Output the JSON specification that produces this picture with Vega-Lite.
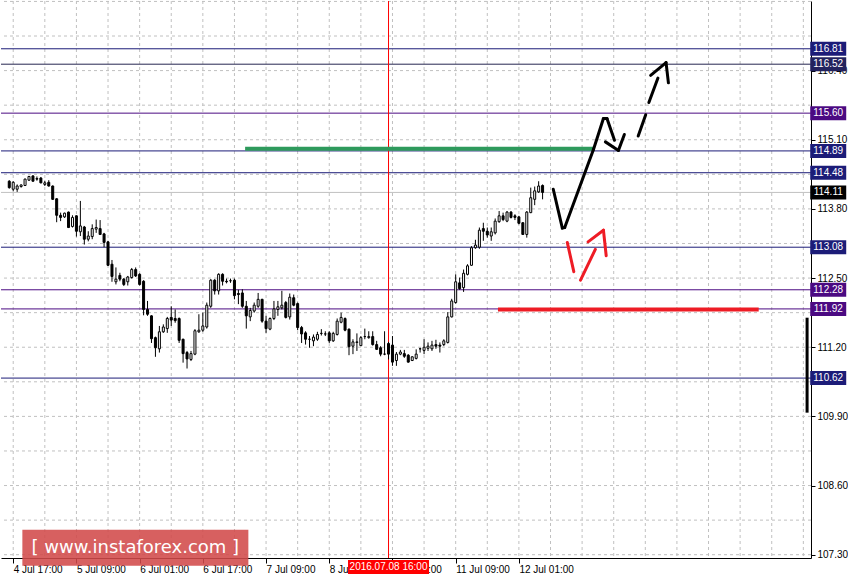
{
  "$schema": "https://vega.github.io/schema/vega-lite/v6.json",
  "width": 810,
  "height": 557,
  "padding": 0,
  "background": "#ffffff",
  "config": {"view": {"stroke": null}, "font": "Liberation Sans"},
  "datasets": {
    "grid": [{"g":0},{"g":8},{"g":16},{"g":24},{"g":32},{"g":40},{"g":48},{"g":56},{"g":64},{"g":72},{"g":80},{"g":88},{"g":96},{"g":104},{"g":112},{"g":120},{"g":128},{"g":136},{"g":144},{"g":152},{"g":160},{"g":168},{"g":176},{"g":184},{"g":192},{"g":200}],
    "hgrid": [{"p":107.30},{"p":107.95},{"p":108.60},{"p":109.25},{"p":109.90},{"p":110.55},{"p":111.20},{"p":111.85},{"p":112.50},{"p":113.15},{"p":113.80},{"p":114.45},{"p":115.10},{"p":115.75},{"p":116.40},{"p":117.05},{"p":117.70}],
    "levels": [
      {"value":116.81,"kind":"navy"},{"value":116.52,"kind":"dark"},{"value":115.60,"kind":"indigo"},{"value":114.89,"kind":"navy"},{"value":114.48,"kind":"navy"},{"value":114.11,"kind":"current"},{"value":113.08,"kind":"navy"},{"value":112.28,"kind":"indigo"},{"value":111.92,"kind":"indigo"},{"value":110.62,"kind":"navy"}
    ],
    "hlines": [
      {"x1":58.7,"x2":147.2,"y":114.93,"c":"green"},
      {"x1":122.7,"x2":188.7,"y":111.91,"c":"red"}
    ],
    "arrows": [
      {"x1":136.7,"y1":114.17,"x2":139.0,"y2":113.44,"c":"black"},
      {"x1":139.0,"y1":113.44,"x2":139.6,"y2":113.45,"c":"black"},
      {"x1":139.6,"y1":113.45,"x2":146.9,"y2":114.92,"c":"black"},
      {"x1":146.9,"y1":114.92,"x2":149.4,"y2":115.50,"c":"black"},
      {"x1":149.4,"y1":115.50,"x2":150.3,"y2":115.50,"c":"black"},
      {"x1":150.3,"y1":115.50,"x2":152.2,"y2":115.09,"c":"black"},
      {"x1":149.9,"y1":115.06,"x2":153.2,"y2":114.90,"c":"black"},
      {"x1":153.2,"y1":114.90,"x2":154.7,"y2":115.20,"c":"black"},
      {"x1":158.2,"y1":115.17,"x2":160.1,"y2":115.57,"c":"black"},
      {"x1":160.9,"y1":115.80,"x2":163.2,"y2":116.26,"c":"black"},
      {"x1":161.35,"y1":116.31,"x2":165.25,"y2":116.55,"c":"black"},
      {"x1":165.25,"y1":116.55,"x2":165.85,"y2":116.17,"c":"black"},
      {"x1":140.25,"y1":113.17,"x2":141.9,"y2":112.62,"c":"red"},
      {"x1":143.6,"y1":112.46,"x2":147.35,"y2":113.04,"c":"red"},
      {"x1":145.5,"y1":113.18,"x2":149.4,"y2":113.40,"c":"red"},
      {"x1":149.4,"y1":113.40,"x2":150.1,"y2":112.92,"c":"red"}
    ],
    "candles": [
      {"i":-1,"o":114.32,"h":114.34,"l":114.18,"c":114.20},
      {"i":0,"o":114.17,"h":114.32,"l":114.13,"c":114.30},
      {"i":1,"o":114.17,"h":114.26,"l":114.12,"c":114.23},
      {"i":2,"o":114.22,"h":114.26,"l":114.20,"c":114.25},
      {"i":3,"o":114.24,"h":114.37,"l":114.23,"c":114.36},
      {"i":4,"o":114.34,"h":114.42,"l":114.33,"c":114.41},
      {"i":5,"o":114.42,"h":114.43,"l":114.32,"c":114.32},
      {"i":6,"o":114.37,"h":114.41,"l":114.33,"c":114.36},
      {"i":7,"o":114.38,"h":114.40,"l":114.28,"c":114.29},
      {"i":8,"o":114.26,"h":114.33,"l":114.23,"c":114.29},
      {"i":9,"o":114.30,"h":114.34,"l":114.22,"c":114.23},
      {"i":10,"o":114.23,"h":114.24,"l":113.97,"c":113.98},
      {"i":11,"o":113.99,"h":114.00,"l":113.55,"c":113.68},
      {"i":12,"o":113.68,"h":113.73,"l":113.57,"c":113.64},
      {"i":13,"o":113.65,"h":113.73,"l":113.63,"c":113.72},
      {"i":14,"o":113.74,"h":113.75,"l":113.44,"c":113.45},
      {"i":15,"o":113.47,"h":113.68,"l":113.45,"c":113.64},
      {"i":16,"o":113.67,"h":113.68,"l":113.28,"c":113.38},
      {"i":17,"o":113.37,"h":113.95,"l":113.29,"c":113.48},
      {"i":18,"o":113.46,"h":113.48,"l":113.13,"c":113.23},
      {"i":19,"o":113.23,"h":113.38,"l":113.19,"c":113.29},
      {"i":20,"o":113.28,"h":113.51,"l":113.23,"c":113.43},
      {"i":21,"o":113.42,"h":113.60,"l":113.35,"c":113.45},
      {"i":22,"o":113.43,"h":113.59,"l":113.32,"c":113.32},
      {"i":23,"o":113.33,"h":113.35,"l":113.08,"c":113.17},
      {"i":24,"o":113.18,"h":113.20,"l":112.73,"c":112.74},
      {"i":25,"o":112.76,"h":112.84,"l":112.43,"c":112.53},
      {"i":26,"o":112.43,"h":112.70,"l":112.38,"c":112.48},
      {"i":27,"o":112.55,"h":112.60,"l":112.44,"c":112.48},
      {"i":28,"o":112.48,"h":112.50,"l":112.35,"c":112.38},
      {"i":29,"o":112.43,"h":112.54,"l":112.36,"c":112.52},
      {"i":30,"o":112.51,"h":112.69,"l":112.49,"c":112.66},
      {"i":31,"o":112.66,"h":112.70,"l":112.52,"c":112.54},
      {"i":32,"o":112.57,"h":112.59,"l":112.36,"c":112.38},
      {"i":33,"o":112.44,"h":112.46,"l":111.80,"c":111.91},
      {"i":34,"o":111.91,"h":112.07,"l":111.79,"c":111.82},
      {"i":35,"o":111.79,"h":111.80,"l":111.28,"c":111.36},
      {"i":36,"o":111.38,"h":111.40,"l":111.02,"c":111.19},
      {"i":37,"o":111.17,"h":111.60,"l":111.10,"c":111.49},
      {"i":38,"o":111.49,"h":111.63,"l":111.47,"c":111.58},
      {"i":39,"o":111.55,"h":111.77,"l":111.47,"c":111.74},
      {"i":40,"o":111.76,"h":111.97,"l":111.60,"c":111.71},
      {"i":41,"o":111.74,"h":111.91,"l":111.66,"c":111.70},
      {"i":42,"o":111.74,"h":111.76,"l":111.28,"c":111.33},
      {"i":43,"o":111.35,"h":111.36,"l":110.91,"c":111.08},
      {"i":44,"o":111.10,"h":111.13,"l":110.80,"c":110.98},
      {"i":45,"o":110.97,"h":111.13,"l":110.94,"c":111.08},
      {"i":46,"o":111.07,"h":111.54,"l":111.05,"c":111.51},
      {"i":47,"o":111.49,"h":111.82,"l":111.47,"c":111.52},
      {"i":48,"o":111.52,"h":111.85,"l":111.49,"c":111.60},
      {"i":49,"o":111.58,"h":112.04,"l":111.55,"c":111.99},
      {"i":50,"o":111.97,"h":112.48,"l":111.94,"c":112.46},
      {"i":51,"o":112.46,"h":112.48,"l":112.19,"c":112.26},
      {"i":52,"o":112.26,"h":112.59,"l":112.19,"c":112.57},
      {"i":53,"o":112.57,"h":112.59,"l":112.36,"c":112.44},
      {"i":54,"o":112.44,"h":112.49,"l":112.40,"c":112.43},
      {"i":55,"o":112.45,"h":112.49,"l":112.41,"c":112.45},
      {"i":56,"o":112.46,"h":112.49,"l":112.10,"c":112.17},
      {"i":57,"o":112.21,"h":112.28,"l":112.01,"c":112.19},
      {"i":58,"o":112.22,"h":112.29,"l":111.94,"c":111.97},
      {"i":59,"o":111.97,"h":112.07,"l":111.55,"c":111.79},
      {"i":60,"o":111.77,"h":111.94,"l":111.69,"c":111.89},
      {"i":61,"o":111.88,"h":112.04,"l":111.85,"c":111.99},
      {"i":62,"o":111.97,"h":112.22,"l":111.94,"c":112.10},
      {"i":63,"o":112.10,"h":112.11,"l":111.66,"c":111.69},
      {"i":64,"o":111.69,"h":111.79,"l":111.47,"c":111.55},
      {"i":65,"o":111.54,"h":111.76,"l":111.52,"c":111.74},
      {"i":66,"o":111.74,"h":112.07,"l":111.71,"c":111.92},
      {"i":67,"o":111.91,"h":112.07,"l":111.79,"c":111.96},
      {"i":68,"o":111.94,"h":112.26,"l":111.91,"c":111.99},
      {"i":69,"o":112.04,"h":112.07,"l":111.74,"c":111.76},
      {"i":70,"o":111.77,"h":112.21,"l":111.72,"c":112.14},
      {"i":71,"o":112.13,"h":112.19,"l":111.97,"c":111.99},
      {"i":72,"o":112.02,"h":112.04,"l":111.52,"c":111.57},
      {"i":73,"o":111.57,"h":111.60,"l":111.28,"c":111.45},
      {"i":74,"o":111.47,"h":111.50,"l":111.25,"c":111.35},
      {"i":75,"o":111.35,"h":111.41,"l":111.19,"c":111.35},
      {"i":76,"o":111.32,"h":111.44,"l":111.22,"c":111.39},
      {"i":77,"o":111.35,"h":111.49,"l":111.32,"c":111.44},
      {"i":78,"o":111.46,"h":111.54,"l":111.42,"c":111.46},
      {"i":79,"o":111.45,"h":111.50,"l":111.41,"c":111.45},
      {"i":80,"o":111.47,"h":111.50,"l":111.28,"c":111.32},
      {"i":81,"o":111.32,"h":111.49,"l":111.30,"c":111.46},
      {"i":82,"o":111.44,"h":111.74,"l":111.42,"c":111.69},
      {"i":83,"o":111.67,"h":111.85,"l":111.65,"c":111.76},
      {"i":84,"o":111.74,"h":111.76,"l":111.50,"c":111.52},
      {"i":85,"o":111.54,"h":111.55,"l":111.05,"c":111.21},
      {"i":86,"o":111.22,"h":111.35,"l":111.07,"c":111.30},
      {"i":87,"o":111.29,"h":111.46,"l":111.13,"c":111.30},
      {"i":88,"o":111.23,"h":111.41,"l":111.22,"c":111.38},
      {"i":89,"o":111.40,"h":111.55,"l":111.35,"c":111.40},
      {"i":90,"o":111.38,"h":111.50,"l":111.36,"c":111.40},
      {"i":91,"o":111.40,"h":111.50,"l":111.23,"c":111.25},
      {"i":92,"o":111.25,"h":111.32,"l":111.15,"c":111.16},
      {"i":93,"o":111.19,"h":111.22,"l":111.03,"c":111.07},
      {"i":94,"o":111.07,"h":111.50,"l":111.05,"c":111.07},
      {"i":95,"o":111.27,"h":111.30,"l":110.97,"c":111.07},
      {"i":96,"o":111.24,"h":111.41,"l":110.85,"c":110.92},
      {"i":97,"o":110.95,"h":111.11,"l":110.85,"c":111.07},
      {"i":98,"o":111.07,"h":111.15,"l":111.05,"c":111.11},
      {"i":99,"o":111.08,"h":111.15,"l":111.00,"c":111.03},
      {"i":100,"o":111.05,"h":111.07,"l":110.91,"c":110.92},
      {"i":101,"o":110.95,"h":111.03,"l":110.94,"c":111.02},
      {"i":102,"o":110.99,"h":111.16,"l":110.97,"c":111.07},
      {"i":103,"o":111.17,"h":111.19,"l":111.10,"c":111.17},
      {"i":104,"o":111.14,"h":111.35,"l":111.07,"c":111.20},
      {"i":105,"o":111.18,"h":111.29,"l":111.13,"c":111.22},
      {"i":106,"o":111.17,"h":111.32,"l":111.13,"c":111.24},
      {"i":107,"o":111.25,"h":111.34,"l":111.17,"c":111.22},
      {"i":108,"o":111.24,"h":111.29,"l":111.10,"c":111.22},
      {"i":109,"o":111.25,"h":111.35,"l":111.22,"c":111.32},
      {"i":110,"o":111.29,"h":111.86,"l":111.27,"c":111.77},
      {"i":111,"o":111.77,"h":112.11,"l":111.76,"c":112.07},
      {"i":112,"o":112.04,"h":112.57,"l":112.02,"c":112.43},
      {"i":113,"o":112.41,"h":112.51,"l":112.28,"c":112.30},
      {"i":114,"o":112.32,"h":112.66,"l":112.24,"c":112.59},
      {"i":115,"o":112.57,"h":112.76,"l":112.55,"c":112.73},
      {"i":116,"o":112.74,"h":113.10,"l":112.73,"c":113.07},
      {"i":117,"o":113.07,"h":113.22,"l":113.05,"c":113.12},
      {"i":118,"o":113.08,"h":113.45,"l":113.05,"c":113.40},
      {"i":119,"o":113.43,"h":113.54,"l":113.20,"c":113.38},
      {"i":120,"o":113.38,"h":113.45,"l":113.26,"c":113.31},
      {"i":121,"o":113.29,"h":113.45,"l":113.20,"c":113.37},
      {"i":122,"o":113.35,"h":113.62,"l":113.32,"c":113.57},
      {"i":123,"o":113.56,"h":113.76,"l":113.54,"c":113.67},
      {"i":124,"o":113.67,"h":113.73,"l":113.57,"c":113.60},
      {"i":125,"o":113.57,"h":113.76,"l":113.55,"c":113.74},
      {"i":126,"o":113.74,"h":113.76,"l":113.62,"c":113.64},
      {"i":127,"o":113.67,"h":113.70,"l":113.59,"c":113.64},
      {"i":128,"o":113.65,"h":113.67,"l":113.51,"c":113.53},
      {"i":129,"o":113.54,"h":113.55,"l":113.31,"c":113.32},
      {"i":130,"o":113.32,"h":113.76,"l":113.26,"c":113.74},
      {"i":131,"o":113.73,"h":114.20,"l":113.72,"c":114.01},
      {"i":132,"o":113.98,"h":114.22,"l":113.87,"c":114.14},
      {"i":133,"o":114.12,"h":114.32,"l":114.10,"c":114.23},
      {"i":134,"o":114.24,"h":114.26,"l":113.98,"c":114.11}
    ]
  },
  "resolve": {"scale": {"stroke": "independent", "fill": "independent", "color": "independent"}},
  "layer": [
    {
      "data": {"name": "grid"},
      "mark": {"type": "rule", "stroke": "#c0c0c0", "strokeWidth": 1, "strokeDash": [3, 3]},
      "encoding": {
        "x": {"field": "g", "type": "quantitative", "scale": {"domain": [-1.825, 200.675], "nice": false, "zero": false},
          "axis": {"title": null, "orient": "bottom", "values": [0, 16, 32, 48, 64, 80, 96, 112, 128], "grid": false,
            "labelExpr": "datum.value==0?'4 Jul 17:00':datum.value==16?'5 Jul 09:00':datum.value==32?'6 Jul 01:00':datum.value==48?'6 Jul 17:00':datum.value==64?'7 Jul 09:00':datum.value==80?'8 Jul 01:00':datum.value==96?'8 Jul 17:00':datum.value==112?'11 Jul 09:00':datum.value==128?'12 Jul 01:00':''",
            "labelAlign": "left", "labelBaseline": "top", "labelPadding": 1, "labelOverlap": false, "labelFlush": false,
            "labelFontSize": 10, "labelColor": "#000000",
            "tickSize": 5, "tickColor": "#000000", "domainColor": "#000000"}}
      }
    },
    {
      "data": {"name": "hgrid"},
      "mark": {"type": "rule", "stroke": "#c0c0c0", "strokeWidth": 1, "strokeDash": [3, 3]},
      "encoding": {
        "y": {"field": "p", "type": "quantitative", "scale": {"domain": [107.238, 117.708], "nice": false, "zero": false},
          "axis": {"title": null, "orient": "right",
            "values": [107.30, 107.95, 108.60, 109.25, 109.90, 110.55, 111.20, 111.85, 112.50, 113.15, 113.80, 114.45, 115.10, 115.75, 116.40, 117.05],
            "format": ".2f", "grid": false,
            "labelAlign": "left", "labelBaseline": "middle", "labelPadding": 2, "labelOverlap": false, "labelFlush": false,
            "labelFontSize": 10, "labelColor": "#000000",
            "tickSize": 4, "tickColor": "#000000", "domainColor": "#000000"}}
      }
    },
    {
      "data": {"name": "levels"},
      "mark": {"type": "rule", "strokeWidth": 1},
      "encoding": {
        "y": {"field": "value", "type": "quantitative", "scale": {"domain": [107.238, 117.708], "nice": false, "zero": false}, "axis": {"title": null}},
        "stroke": {"field": "kind", "type": "nominal", "legend": null,
          "scale": {"domain": ["navy", "dark", "indigo", "current"], "range": ["#1c1c78", "#262650", "#4b0a82", "#c0c0c0"]}}
      }
    },
    {
      "data": {"values": [{}]},
      "mark": {"type": "rule", "stroke": "#ff0000", "strokeWidth": 1},
      "encoding": {
        "x": {"datum": 95, "type": "quantitative", "scale": {"domain": [-1.825, 200.675], "nice": false, "zero": false}, "axis": {"title": null}}
      }
    },
    {
      "data": {"name": "candles"},
      "mark": {"type": "rule", "stroke": "#000000", "strokeWidth": 1},
      "encoding": {
        "x": {"field": "i", "type": "quantitative", "scale": {"domain": [-1.825, 200.675], "nice": false, "zero": false}, "axis": {"title": null}},
        "y": {"field": "l", "type": "quantitative", "scale": {"domain": [107.238, 117.708], "nice": false, "zero": false}, "axis": {"title": null}},
        "y2": {"field": "h"}
      }
    },
    {
      "data": {"name": "candles"},
      "transform": [{"filter": "datum.c >= datum.o"}],
      "mark": {"type": "bar", "size": 2, "fill": "#ffffff", "stroke": "#000000", "strokeWidth": 1},
      "encoding": {
        "x": {"field": "i", "type": "quantitative", "scale": {"domain": [-1.825, 200.675], "nice": false, "zero": false}, "axis": {"title": null}},
        "y": {"field": "o", "type": "quantitative", "scale": {"domain": [107.238, 117.708], "nice": false, "zero": false}, "axis": {"title": null}},
        "y2": {"field": "c"}
      }
    },
    {
      "data": {"name": "candles"},
      "transform": [{"filter": "datum.c < datum.o"}],
      "mark": {"type": "bar", "size": 2, "fill": "#000000", "stroke": "#000000", "strokeWidth": 1},
      "encoding": {
        "x": {"field": "i", "type": "quantitative", "scale": {"domain": [-1.825, 200.675], "nice": false, "zero": false}, "axis": {"title": null}},
        "y": {"field": "o", "type": "quantitative", "scale": {"domain": [107.238, 117.708], "nice": false, "zero": false}, "axis": {"title": null}},
        "y2": {"field": "c"}
      }
    },
    {
      "data": {"name": "hlines"},
      "mark": {"type": "rule", "strokeWidth": 4},
      "encoding": {
        "x": {"field": "x1", "type": "quantitative", "scale": {"domain": [-1.825, 200.675], "nice": false, "zero": false}, "axis": {"title": null}},
        "x2": {"field": "x2"},
        "y": {"field": "y", "type": "quantitative", "scale": {"domain": [107.238, 117.708], "nice": false, "zero": false}, "axis": {"title": null}},
        "color": {"field": "c", "type": "nominal", "legend": null, "scale": {"domain": ["green", "red"], "range": ["#2e9a5c", "#ee1c25"]}}
      }
    },
    {
      "data": {"name": "arrows"},
      "mark": {"type": "rule", "strokeWidth": 3, "strokeCap": "round"},
      "encoding": {
        "x": {"field": "x1", "type": "quantitative", "scale": {"domain": [-1.825, 200.675], "nice": false, "zero": false}, "axis": {"title": null}},
        "x2": {"field": "x2"},
        "y": {"field": "y1", "type": "quantitative", "scale": {"domain": [107.238, 117.708], "nice": false, "zero": false}, "axis": {"title": null}},
        "y2": {"field": "y2"},
        "stroke": {"field": "c", "type": "nominal", "legend": null, "scale": {"domain": ["black", "red"], "range": ["#000000", "#ee1c25"]}}
      }
    },
    {
      "data": {"name": "levels"},
      "mark": {"type": "point", "filled": true, "opacity": 1, "strokeWidth": 0, "shape": "M-1,-0.389H1V0.389H-1Z", "size": 1296},
      "encoding": {
        "x": {"datum": 206.3, "type": "quantitative", "scale": {"domain": [-1.825, 200.675], "nice": false, "zero": false}, "axis": {"title": null}},
        "y": {"field": "value", "type": "quantitative", "scale": {"domain": [107.238, 117.708], "nice": false, "zero": false}, "axis": {"title": null}},
        "fill": {"field": "kind", "type": "nominal", "legend": null,
          "scale": {"domain": ["navy", "dark", "indigo", "current"], "range": ["#1c1c78", "#23235e", "#4b0a82", "#000000"]}}
      }
    },
    {
      "data": {"name": "levels"},
      "mark": {"type": "text", "color": "#ffffff", "font": "Liberation Sans", "fontSize": 10, "align": "center", "baseline": "middle"},
      "encoding": {
        "x": {"datum": 206.3, "type": "quantitative", "scale": {"domain": [-1.825, 200.675], "nice": false, "zero": false}, "axis": {"title": null}},
        "y": {"field": "value", "type": "quantitative", "scale": {"domain": [107.238, 117.708], "nice": false, "zero": false}, "axis": {"title": null}},
        "text": {"field": "value", "type": "quantitative", "format": ".2f"}
      }
    },
    {
      "data": {"values": [{}]},
      "mark": {"type": "rule", "stroke": "#000000", "strokeWidth": 3},
      "encoding": {
        "x": {"datum": 200.95, "type": "quantitative", "scale": {"domain": [-1.825, 200.675], "nice": false, "zero": false}, "axis": {"title": null}},
        "y": {"datum": 111.755, "type": "quantitative", "scale": {"domain": [107.238, 117.708], "nice": false, "zero": false}, "axis": {"title": null}},
        "y2": {"datum": 109.97}
      }
    },
    {
      "data": {"values": [{"t": "2016.07.08 16:00"}]},
      "mark": {"type": "point", "filled": true, "opacity": 1, "strokeWidth": 0, "color": "#ff0000", "shape": "M-1,-0.173H1V0.173H-1Z", "size": 6561},
      "encoding": {
        "x": {"datum": 95, "type": "quantitative", "scale": {"domain": [-1.825, 200.675], "nice": false, "zero": false}, "axis": {"title": null}},
        "y": {"datum": 107.07, "type": "quantitative", "scale": {"domain": [107.238, 117.708], "nice": false, "zero": false}, "axis": {"title": null}}
      }
    },
    {
      "data": {"values": [{"t": "2016.07.08 16:00"}]},
      "mark": {"type": "text", "color": "#ffffff", "font": "Liberation Sans", "fontSize": 10, "align": "center", "baseline": "middle"},
      "encoding": {
        "x": {"datum": 95, "type": "quantitative", "scale": {"domain": [-1.825, 200.675], "nice": false, "zero": false}, "axis": {"title": null}},
        "y": {"datum": 107.07, "type": "quantitative", "scale": {"domain": [107.238, 117.708], "nice": false, "zero": false}, "axis": {"title": null}},
        "text": {"field": "t"}
      }
    },
    {
      "data": {"values": [{"t": "[ www.instaforex.com ]"}]},
      "mark": {"type": "point", "filled": true, "opacity": 0.88, "strokeWidth": 0, "color": "#d24a4a", "shape": "M-1,-0.159H1V0.159H-1Z", "size": 51076},
      "encoding": {
        "x": {"datum": 30.92, "type": "quantitative", "scale": {"domain": [-1.825, 200.675], "nice": false, "zero": false}, "axis": {"title": null}},
        "y": {"datum": 107.43, "type": "quantitative", "scale": {"domain": [107.238, 117.708], "nice": false, "zero": false}, "axis": {"title": null}}
      }
    },
    {
      "data": {"values": [{"t": "[ www.instaforex.com ]"}]},
      "mark": {"type": "text", "color": "#ffffff", "font": "DejaVu Sans", "fontSize": 18, "align": "center", "baseline": "middle"},
      "encoding": {
        "x": {"datum": 30.92, "type": "quantitative", "scale": {"domain": [-1.825, 200.675], "nice": false, "zero": false}, "axis": {"title": null}},
        "y": {"datum": 107.43, "type": "quantitative", "scale": {"domain": [107.238, 117.708], "nice": false, "zero": false}, "axis": {"title": null}},
        "text": {"field": "t"}
      }
    }
  ]
}
